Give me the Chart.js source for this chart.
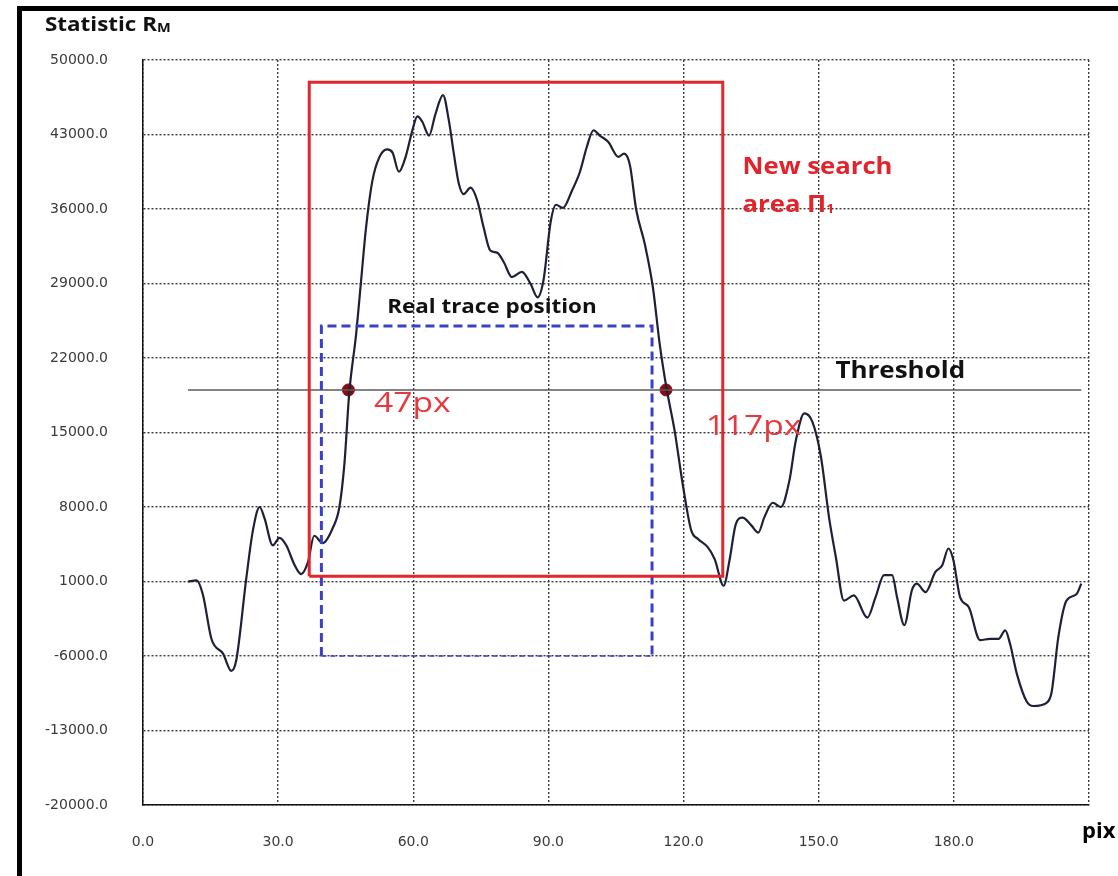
<!DOCTYPE html>
<html>
<head>
<meta charset="utf-8">
<script src="https://cdn.jsdelivr.net/npm/chart.js@4.4.1/dist/chart.umd.min.js"></script>
<style>
  html, body { margin: 0; padding: 0; background: #fff; }
  #wrap { width: 1118px; height: 876px; position: relative; }
</style>
</head>
<body>
<div id="wrap"><canvas id="chart1"></canvas></div>
<script>
// curve (x in pix, y = statistic RM)
const xs = [10, 11.9, 13.3, 15.2, 17.8, 19.6, 20.7, 22.9, 24.4, 25.9, 27.0, 28.8, 30.3, 31.8, 33.6, 35.1,
  36.6, 38.0, 39.9, 42.1, 43.6, 44.7, 45.8, 47.3, 48.4, 49.5, 50.9, 52.4, 54.2, 55.4, 56.8, 58.3, 59.8,
  60.9, 62.0, 63.5, 64.9, 66.6, 67.9, 69.0, 70.1, 71.2, 72.7, 74.2, 75.6, 77.1, 78.6, 80.1, 81.9, 84.1,
  86.0, 87.6, 88.9, 90.5, 91.7, 93.2, 95.2, 97.0, 98.5, 100.0, 101.4, 103.3, 105.5, 106.8, 108.1, 109.5,
  111.4, 113.2, 114.7, 116.2, 118.0, 119.9, 121.7, 123.2, 125.4, 126.9, 128.9, 130.2, 131.6, 133.1,
  135.0, 136.6, 137.9, 139.8, 141.6, 143.5, 144.9, 146.8, 148.6, 150.5, 152.3, 153.8, 155.6, 157.8,
  160.8, 162.6, 164.5, 166.3, 167.4, 169.0, 170.7, 171.8, 173.7, 175.9, 177.4, 178.8, 179.9, 181.4,
  183.3, 185.8, 188.0, 189.9, 191.4, 192.5, 194.0, 196.2, 197.6, 200.6, 201.7, 203.2, 205.0, 207.2, 208.3]
const ys = [1000, 1100, -250, -4400, -5800, -7400, -6400, 1200, 5800, 8000, 6900, 4400, 5100, 4400, 2600, 1700,
  2800, 5300, 4600, 6000, 8000, 12000, 18800, 24200, 29200, 34200, 38600, 40800, 41600, 41300, 39500, 40900, 43400,
  44700, 44200, 42900, 44900, 46700, 44300, 41200, 38400, 37400, 38000, 36800, 34300, 32100, 31900, 31000, 29600, 30100,
  29000, 27700, 29300, 34800, 36400, 36100, 37700, 39500, 41800, 43400, 42900, 42300, 40900, 41200, 40100, 35900,
  32700, 28600, 23300, 19200, 15200, 9900, 5800, 5000, 4200, 3100, 600, 3000, 6400, 7000,
  6300, 5600, 7000, 8400, 8000, 10500, 14200, 16800, 16000, 12700, 7000, 3300, -800, -300,
  -2400, -500, 1600, 1600, -500, -3100, 200, 800, 0, 1900, 2500, 4100, 3000, -500,
  -1400, -4500, -4400, -4400, -3600, -4900, -7700, -10300, -10700, -10400, -9400, -4200, -800, -200, 800]

const yTicks = [-20000, -13000, -6000, 1000, 8000, 15000, 22000, 29000, 36000, 43000, 50000]
const xTicks = [0, 30, 60, 90, 120, 150, 180, 210]

const threshold = 19000
const thresholdX = [10, 208.3]
const crossX = [45.6, 116.1]           // 47px / 117px points
const searchBoxX = [36.9, 128.7]       // new search area
const searchBoxY = [1500, 47900]
const traceBoxX = [39.6, 113]          // real trace position
const traceBoxY = [-6000, 25000]

const FONT = "'Open Sans', 'DejaVu Sans', sans-serif"
const TICKFONT = "'DejaVu Sans', sans-serif"

function pts(xArr, yArr) { return xArr.map((x, i) => ({ x: x, y: yArr[i] })) }

// text a bit stretched sideways, like the picture
function wideText(c, txt, x, y, sx) {
  c.save()
  c.translate(x, y)
  c.scale(sx, 1)
  c.fillText(txt, 0, 0)
  const w = c.measureText(txt).width * sx
  c.restore()
  return w
}

var ctx1 = document.getElementById('chart1').getContext('2d')

const frameAndText = {
  id: 'frameAndText',
  beforeDraw(chart) {
    const c = chart.ctx
    c.save()
    c.fillStyle = '#fff'
    c.fillRect(0, 0, chart.width, chart.height)
    c.fillStyle = '#000'
    c.fillRect(17, 6, chart.width - 17, 5)
    c.fillRect(17, 6, 5, chart.height - 6)
    c.restore()
  },
  afterDatasetsDraw(chart) {
    const c = chart.ctx
    const sx = chart.scales.x, sy = chart.scales.y
    const px = v => sx.getPixelForValue(v), py = v => sy.getPixelForValue(v)
    c.save()
    c.textBaseline = 'middle'
    c.textAlign = 'left'

    // title
    c.fillStyle = '#111'
    c.font = 'bold 20px ' + FONT
    let w = wideText(c, 'Statistic R', 45, 25, 1.12)
    c.font = 'bold 13px ' + FONT
    wideText(c, 'M', 45 + w, 28, 1.12)

    c.font = 'bold 19px ' + FONT
    wideText(c, 'Real trace position', px(54.2), py(26700), 1.18)

    c.font = 'bold 23px ' + FONT
    wideText(c, 'Threshold', px(153.7), py(20700), 1.13)

    c.fillStyle = '#e3232b'
    c.font = 'bold 24px ' + FONT
    wideText(c, 'New search', px(133.1), py(39900), 1.07)
    w = wideText(c, 'area \u03A0', px(133.1), py(36400), 1.07)
    c.font = 'bold 13px ' + FONT
    wideText(c, '1', px(133.1) + w, py(36400) + 5, 1.07)

    c.fillStyle = '#e8383d'
    c.font = '28px ' + FONT
    wideText(c, '47px', px(51.3), py(17700), 1.2)
    wideText(c, '117px', px(124.9), py(15500), 1.2)

    c.fillStyle = '#000'
    c.font = 'bold 22px ' + FONT
    wideText(c, 'pix', px(210) - 7, 832, 1.0)
    c.restore()
  }
}

const config1 = {
  type: 'line',
  data: {
    datasets: [
      {
        label: 'search area',
        data: pts([searchBoxX[0], searchBoxX[0], searchBoxX[1], searchBoxX[1], searchBoxX[0]],
          [searchBoxY[0], searchBoxY[1], searchBoxY[1], searchBoxY[0], searchBoxY[0]]),
        borderColor: '#e3262c',
        borderWidth: 3,
        pointRadius: 0,
        tension: 0,
      },
      {
        label: 'trace box',
        data: pts([traceBoxX[0], traceBoxX[0], traceBoxX[1], traceBoxX[1]],
          [traceBoxY[0], traceBoxY[1], traceBoxY[1], traceBoxY[0]]),
        borderColor: '#3b40c6',
        borderWidth: 3,
        borderDash: [9, 5],
        pointRadius: 0,
        tension: 0,
      },
      {
        label: 'trace box bottom',
        data: pts([traceBoxX[0], traceBoxX[1]], [traceBoxY[0], traceBoxY[0]]),
        borderColor: '#3b40c6',
        borderWidth: 1.5,
        borderDash: [5, 4],
        pointRadius: 0,
        tension: 0,
      },
      {
        label: 'threshold',
        data: pts(thresholdX, [threshold, threshold]),
        borderColor: '#5a5a5a',
        borderWidth: 1.5,
        pointRadius: 0,
        tension: 0,
      },
      {
        label: 'Statistic RM',
        data: pts(xs, ys),
        borderColor: '#1d2037',
        borderWidth: 2.2,
        pointRadius: 0,
        cubicInterpolationMode: 'monotone',
      },
      {
        label: 'crossings',
        data: pts(crossX, [threshold, threshold]),
        showLine: false,
        pointRadius: 6,
        pointBackgroundColor: '#8a0c12',
        pointBorderColor: '#8a0c12',
      },
    ],
  },
  options: {
    responsive: true,
    maintainAspectRatio: false,
    animation: false,
    layout: { padding: { left: 0, top: 60, right: 18, bottom: 0 } },
    plugins: { legend: { display: false }, tooltip: { enabled: false } },
    scales: {
      x: {
        type: 'linear',
        min: 0,
        max: 210,
        afterBuildTicks: s => { s.ticks = xTicks.map(v => ({ value: v })) },
        afterFit: s => { s.height = 71 },
        grid: { color: '#3a3a3a', lineWidth: 1.4, drawTicks: false },
        border: { color: '#111', width: 1.5, dash: [2, 2] },
        ticks: {
          padding: 29,
          color: '#3a3a3a',
          font: { family: TICKFONT, size: 14 },
          callback: v => (v === 210 ? '' : v.toFixed(1)),
        },
      },
      y: {
        min: -20000,
        max: 50000,
        afterBuildTicks: s => { s.ticks = yTicks.map(v => ({ value: v })) },
        afterFit: s => { s.width = 143 },
        grid: { color: '#3a3a3a', lineWidth: 1.4, drawTicks: false },
        border: { color: '#111', width: 1.5, dash: [2, 2] },
        ticks: {
          padding: 35,
          color: '#3a3a3a',
          font: { family: TICKFONT, size: 14 },
          callback: v => v.toFixed(1),
        },
      },
    },
  },
  plugins: [frameAndText],
}

var chart1 = new Chart(ctx1, config1)
</script>
</body>
</html>
